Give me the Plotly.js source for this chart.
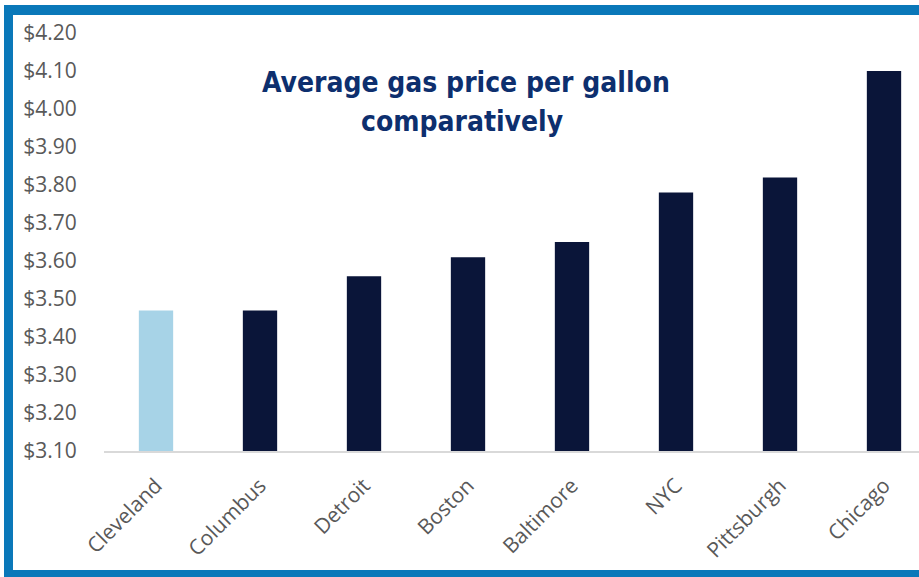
<!DOCTYPE html>
<html>
<head>
<meta charset="utf-8">
<script src="https://cdn.plot.ly/plotly-3.0.1.min.js"></script>
<style>html,body{margin:0;padding:0;background:#fff;}#chart{width:919px;height:577px;}</style>
</head>
<body>
<div id="chart"></div>
<script>
const cities = ["Cleveland", "Columbus", "Detroit", "Boston", "Baltimore", "NYC", "Pittsburgh", "Chicago"];
const prices = [3.47, 3.47, 3.56, 3.61, 3.65, 3.78, 3.82, 4.10];
const yTickValues = [3.10, 3.20, 3.30, 3.40, 3.50, 3.60, 3.70, 3.80, 3.90, 4.00, 4.10, 4.20];
const yTickLabels = ["$3.10", "$3.20", "$3.30", "$3.40", "$3.50", "$3.60", "$3.70", "$3.80", "$3.90", "$4.00", "$4.10", "$4.20"];
const titleLines = ["Average gas price per gallon", "comparatively"];

const W = 919, H = 577;
const mL = 104, mR = 0, mT = 33, mB = 126;
const pw = W - mL - mR, ph = H - mT - mB;
const px = x => (x - mL) / pw;
const py = y => (H - mB - y) / ph;

const colors = cities.map((c, i) => i === 0 ? "#a7d3e7" : "#0a1539");
const blue = "#0a78b9";

const shapes = [
  [4, 5, 919, 15],
  [4, 5, 13, 577],
  [4, 570, 919, 577]
].map(r => ({
  type: "rect", xref: "paper", yref: "paper", layer: "above",
  x0: px(r[0]), x1: px(r[2]), y0: py(r[3]), y1: py(r[1]),
  fillcolor: blue, line: {width: 0}
}));

const titleFont = {family: "DejaVu Sans Condensed, Roboto, sans-serif", size: 28, color: "#0d2f6e", weight: 700};

const annotations = [
  {text: "<b>" + titleLines[0] + "</b>", x: px(466), y: py(82), xanchor: "center", yanchor: "middle"},
  {text: "<b>" + titleLines[1] + "</b>", x: px(462), y: py(122), xanchor: "center", yanchor: "middle"}
].map(a => Object.assign(a, {xref: "paper", yref: "paper", showarrow: false, font: titleFont}));

const data = [{
  type: "bar",
  x: cities,
  y: prices,
  marker: {color: colors},
  width: 0.33,
  hoverinfo: "x+y"
}];

const tickFont = {family: "Open Sans, Noto Sans, sans-serif", size: 21, color: "#595959"};

const layout = {
  width: W, height: H,
  margin: {l: mL, r: mR, t: mT, b: mB, pad: 0},
  paper_bgcolor: "#fff", plot_bgcolor: "#fff",
  showlegend: false,
  xaxis: {
    type: "category",
    range: [-0.5, -0.5 + pw / 104],
    tickangle: -45,
    showgrid: false,
    zeroline: false,
    showline: true, linecolor: "#d9d9d9", linewidth: 2,
    ticks: "outside", ticklen: 12, tickcolor: "rgba(0,0,0,0)",
    tickfont: tickFont
  },
  yaxis: {
    range: [3.10, 4.20],
    tickvals: yTickValues,
    ticktext: yTickLabels,
    showgrid: false,
    zeroline: false,
    showline: false,
    ticks: "outside", ticklen: 22, tickcolor: "rgba(0,0,0,0)",
    tickfont: tickFont
  },
  shapes: shapes,
  annotations: annotations
};

Plotly.newPlot("chart", data, layout, {displayModeBar: false, staticPlot: true});
</script>
</body>
</html>
